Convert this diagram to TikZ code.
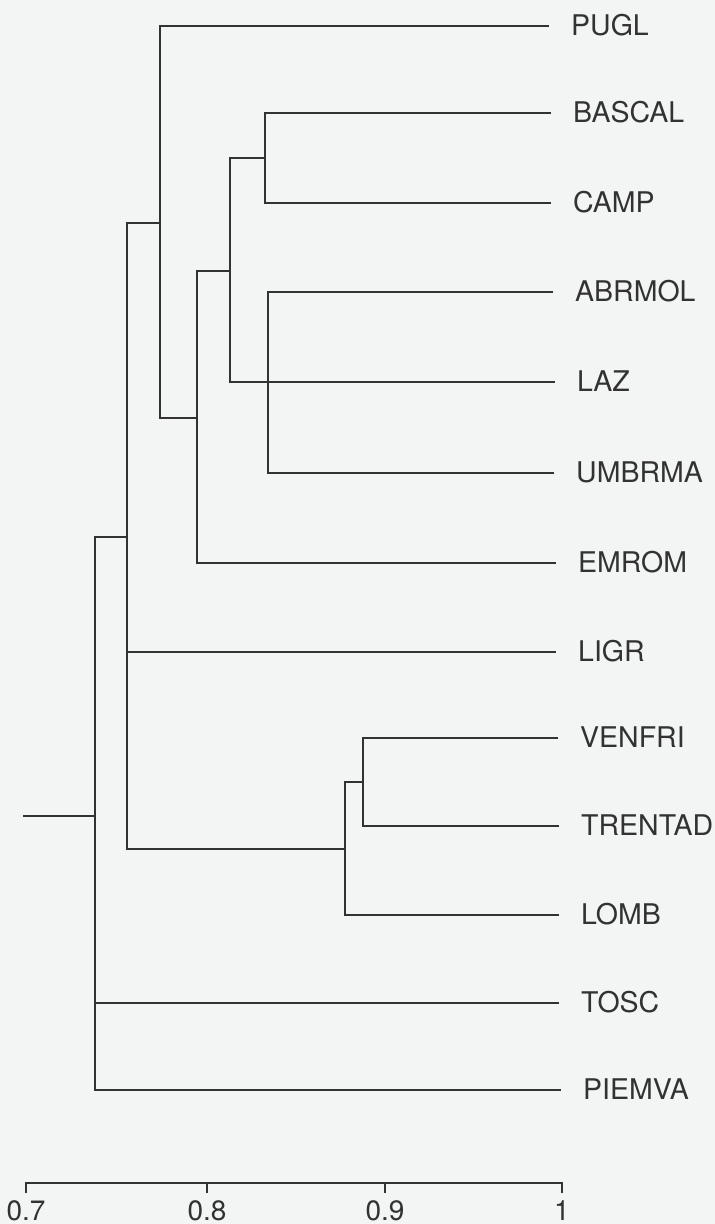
\documentclass[tikz,border=0pt]{standalone}
\usepackage{fontspec}
\setmainfont{TeX Gyre Heros}
\definecolor{paper}{RGB}{243,245,244}
\definecolor{ink}{RGB}{50,50,50}
\tikzset{
  branch/.style={draw=ink, line width=2.8pt, line cap=rect, line join=miter},
  leaflabel/.style={anchor=west, inner sep=0pt, text=ink, font=\fontsize{28.5}{30}\selectfont},
  ticklabel/.style={anchor=base, inner sep=0pt, text=ink, font=\fontsize{28}{30}\selectfont},
}
\begin{document}
\begin{tikzpicture}[x=1pt, y=-1pt]
  % page
  \fill[paper] (0,0) rectangle (715,1224);
  \useasboundingbox (0,0) rectangle (715,1224);

  % leaf ends and labels
  \foreach \name/\x/\y in {
      PUGL/548/26, BASCAL/550/113, CAMP/550/203, ABRMOL/552/292,
      LAZ/554/382, UMBRMA/553/473, EMROM/555/563, LIGR/555/652,
      VENFRI/557/738, TRENTAD/558/826, LOMB/558/915, TOSC/558/1003,
      PIEMVA/560/1090} {
    \coordinate (e\name) at (\x,\y);
    \node[leaflabel] (\name) at (\x+23,\y-1) {\name};
  }

  % merge points (x = similarity level, y = middle of the merged pair)
  \coordinate (b1) at (265,158);   % BASCAL + CAMP
  \coordinate (b2) at (268,382);   % ABRMOL + UMBRMA
  \coordinate (b3) at (230,271);   % + LAZ
  \coordinate (b4) at (197,418);   % + EMROM
  \coordinate (b5) at (160,223);   % + PUGL
  \coordinate (b6) at (363,782);   % VENFRI + TRENTAD
  \coordinate (b7) at (345,849);   % + LOMB
  \coordinate (b8) at (127,537);   % + LIGR
  \coordinate (b9) at (95,816);    % + TOSC, PIEMVA
  \coordinate (root) at (24,816);

  % dendrogram
  \draw[branch] (eBASCAL) -| (b1) |- (eCAMP);
  \draw[branch] (eABRMOL) -| (b2) |- (eUMBRMA);
  \draw[branch] (b1) -| (b3) |- (eLAZ);
  \draw[branch] (b3) -| (b4) |- (eEMROM);
  \draw[branch] (ePUGL) -| (b5) |- (b4);
  \draw[branch] (eVENFRI) -| (b6) |- (eTRENTAD);
  \draw[branch] (b6) -| (b7) |- (eLOMB);
  \draw[branch] (b5) -| (b8) |- (b7);
  \draw[branch] (b8 |- eLIGR) -- (eLIGR);
  \draw[branch] (b8) -| (b9) |- (ePIEMVA);
  \draw[branch] (b9 |- eTOSC) -- (eTOSC);
  \draw[branch] (b9) -- (root);

  % similarity axis
  \foreach \i/\v/\x in {1/0.7/26, 2/0.8/207, 3/0.9/385, 4/1/562} {
    \coordinate (t\i) at (\x,1183);
    \draw[branch] (t\i) -- ++(0,9);
    \node[ticklabel] (l\i) at (\x,1220) {\v};
  }
  \draw[branch] (t1) -- (t4);
\end{tikzpicture}
\end{document}
